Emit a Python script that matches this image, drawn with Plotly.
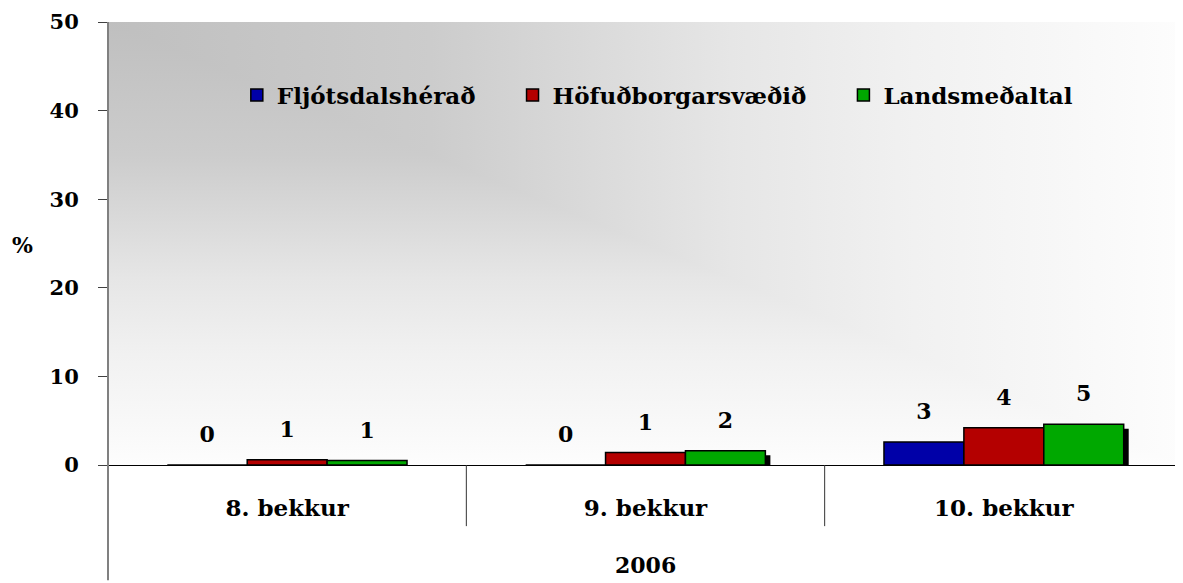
import base64
import plotly.graph_objects as go

# data
categories = ["8. bekkur", "9. bekkur", "10. bekkur"]
fljotsdalsherad = [0.0, 0.0, 2.6]
hofudborgarsvaedid = [0.6, 1.4, 4.2]
landsmedaltal = [0.5, 1.6, 4.6]
year_label = "2006"

series = [
    ("Fljótsdalshérað", fljotsdalsherad, "#0000a8"),
    ("Höfuðborgarsvæðið", hofudborgarsvaedid, "#b40000"),
    ("Landsmeðaltal", landsmedaltal, "#00a800"),
]

FONT = "DejaVu Serif"
PAD = "\u00a0" * 4  # widens the gap between legend entries
BAR_W = 0.223
offsets = [-1.5 * BAR_W, -0.5 * BAR_W, 0.5 * BAR_W]

fig = go.Figure()

# drop shadow behind the last bar of each group
fig.add_trace(go.Bar(
    x=categories, y=[max(v - 0.5, 0) for v in landsmedaltal],
    width=BAR_W, offset=offsets[2] + 0.014,
    marker=dict(color="black", line=dict(width=0)),
    showlegend=False, hoverinfo="skip",
))

for i, (name, vals, col) in enumerate(series):
    fig.add_trace(go.Bar(
        x=categories, y=vals, name=name + (PAD if i < len(series) - 1 else ""),
        width=BAR_W, offset=offsets[i],
        marker=dict(color=col, line=dict(color="black", width=1.5)),
        # small empty second line lifts the label off the bar top
        texttemplate='<span style="font-size:22px">%{y:.0f}</span><br> ',
        textposition="outside",
        textfont=dict(family=FONT, size=13, color="black", weight="bold"),
        cliponaxis=False,
    ))

# "from corner" grey -> white fill of the plot area
stops = ('<stop offset="0" stop-color="#bfbfbf"/><stop offset="0.3" stop-color="#cccccc"/>'
         '<stop offset="0.58" stop-color="#e6e6e6"/><stop offset="0.75" stop-color="#f1f1f1"/>'
         '<stop offset="0.88" stop-color="#f7f7f7"/><stop offset="1" stop-color="#fdfdfd"/>')
svg = ('<svg xmlns="http://www.w3.org/2000/svg" viewBox="0 0 1 1" width="1000" height="1000" '
       'preserveAspectRatio="none"><defs>'
       '<linearGradient id="h" x1="0" y1="0" x2="1" y2="0" gradientUnits="userSpaceOnUse">' + stops +
       '</linearGradient>'
       '<linearGradient id="v" x1="0" y1="0" x2="0" y2="1" gradientUnits="userSpaceOnUse">' + stops +
       '</linearGradient></defs>'
       '<rect x="0" y="0" width="1" height="1" fill="url(#v)"/>'
       '<polygon points="0,0 1,0 1,1" fill="url(#h)"/></svg>')
src = "data:image/svg+xml;base64," + base64.b64encode(svg.encode()).decode()

shapes = [
    # y axis line extended below the category labels
    dict(type="line", xref="paper", yref="paper", x0=0, x1=0, y0=-0.26, y1=1,
         line=dict(color="#808080", width=2)),
]
for b in [0.5, 1.5]:
    shapes.append(dict(type="line", xref="x", yref="paper", x0=b, x1=b, y0=0, y1=-0.138,
                       line=dict(color="#333333", width=1)))

fig.update_layout(
    width=1175, height=575,
    margin=dict(l=100, r=0, t=14, b=118),
    paper_bgcolor="white", plot_bgcolor="rgba(0,0,0,0)",
    font=dict(family=FONT, size=22, color="black", weight="bold"),
    barmode="overlay",
    showlegend=True,
    legend=dict(orientation="h", x=0.511, xanchor="center", y=0.835, yanchor="middle",
                bgcolor="rgba(0,0,0,0)", font=dict(family=FONT, size=23, weight="bold"),
                itemwidth=30, traceorder="normal"),
    images=[dict(source=src, xref="paper", yref="paper", x=0, y=1, sizex=1, sizey=1,
                 sizing="stretch", layer="below", xanchor="left", yanchor="top")],
    shapes=shapes,
    annotations=[
        dict(text="%", xref="paper", yref="paper", x=-0.08, y=0.497, showarrow=False,
             xanchor="center", yanchor="middle", font=dict(family=FONT, size=22, weight="bold")),
        dict(text=year_label, xref="paper", yref="paper", x=0.5, y=-0.226, showarrow=False,
             xanchor="center", yanchor="middle", font=dict(family=FONT, size=22, weight="bold")),
    ],
)
fig.update_xaxes(showline=True, linecolor="black", linewidth=1, showgrid=False,
                 ticks="", ticklabelstandoff=22,
                 tickfont=dict(family=FONT, size=23, weight="bold"))
fig.update_yaxes(range=[0, 50], dtick=10, showgrid=False, zeroline=False, showline=False,
                 ticks="outside", ticklen=9, tickcolor="#404040", tickwidth=1,
                 ticklabelstandoff=15, tickfont=dict(family=FONT, size=21, weight="bold"))

fig.write_html("out.html")
